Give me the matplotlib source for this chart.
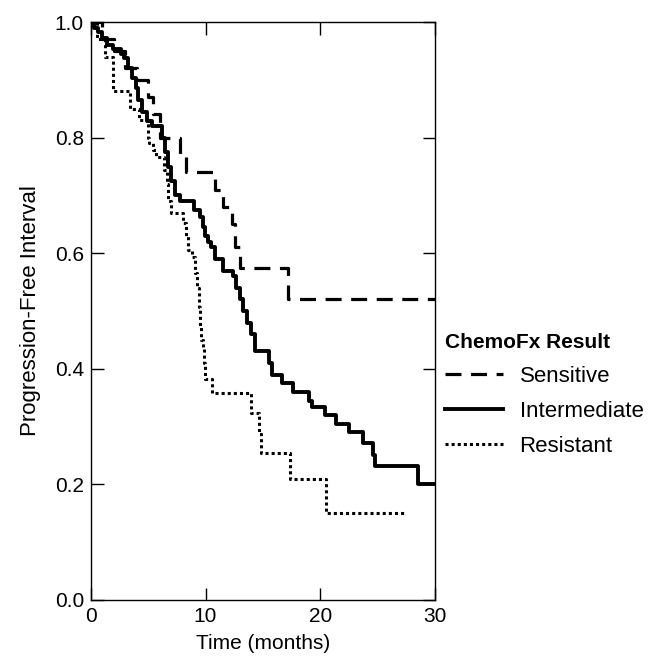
import matplotlib
matplotlib.use("Agg")
import matplotlib.pyplot as plt

plt.rcParams["font.family"] = ["Liberation Sans", "DejaVu Sans"]

# ── Kaplan-Meier step data ───────────────────────────────────────────────────
sens_t = [0, 1.0, 2.0, 3.0, 4.0, 5.0, 5.4, 6.0, 7.8, 8.3, 10.8, 11.5, 12.3, 12.6, 13.0, 17.2, 30]
sens_s = [1.0, 0.97, 0.95, 0.92, 0.90, 0.87, 0.84, 0.80, 0.77, 0.74, 0.71, 0.68, 0.65, 0.61, 0.574, 0.52, 0.52]

inter_t = [0, 0.3, 0.6, 1.0, 1.4, 1.9, 2.6, 2.9, 3.2, 3.6, 3.9, 4.1, 4.5, 4.9, 5.3, 6.2, 6.5,
           6.7, 7.0, 7.3, 7.8, 9.0, 9.5, 9.8, 9.95, 10.2, 10.5, 10.8, 11.5, 12.4, 12.7, 13.0,
           13.3, 13.6, 14.0, 14.3, 15.5, 15.8, 16.7, 17.6, 19.0, 19.3, 20.4, 21.4, 22.5, 23.7,
           24.6, 24.8, 28.5, 30]
inter_s = [1.0, 0.99, 0.983, 0.972, 0.96, 0.954, 0.945, 0.937, 0.92, 0.903, 0.885, 0.865, 0.845,
           0.828, 0.82, 0.80, 0.775, 0.75, 0.725, 0.70, 0.69, 0.675, 0.663, 0.645, 0.629, 0.62,
           0.61, 0.59, 0.57, 0.56, 0.54, 0.52, 0.50, 0.48, 0.46, 0.43, 0.41, 0.39, 0.375, 0.36,
           0.345, 0.334, 0.32, 0.305, 0.29, 0.272, 0.25, 0.231, 0.20, 0.20]

res_t = [0, 0.5, 1.2, 1.9, 3.4, 4.2, 5.0, 5.1, 5.4, 5.7, 6.4, 6.6, 6.75, 7.0, 8.0, 8.3, 8.5,
         8.8, 9.1, 9.3, 9.4, 9.5, 9.6, 9.8, 9.9, 9.95, 10.6, 14.0, 14.7, 14.85, 17.35, 20.5, 27.5]
res_s = [1.0, 0.97, 0.94, 0.88, 0.85, 0.83, 0.80, 0.79, 0.778, 0.767, 0.744, 0.72, 0.69, 0.669,
         0.652, 0.629, 0.606, 0.594, 0.565, 0.54, 0.507, 0.473, 0.45, 0.438, 0.41, 0.383, 0.358,
         0.323, 0.288, 0.254, 0.21, 0.15, 0.15]

x_ticks = [0, 10, 20, 30]
y_ticks = [0.0, 0.2, 0.4, 0.6, 0.8, 1.0]

# ── Plot ─────────────────────────────────────────────────────────────────────
fig = plt.figure(figsize=(6.49, 6.61), dpi=100)
ax = fig.add_axes([0.140, 0.0923, 0.530, 0.8744])

ax.step(sens_t, sens_s, where="post", color="black", lw=2.3,
        linestyle=(0, (5, 3)), label="Sensitive")
ax.step(inter_t, inter_s, where="post", color="black", lw=2.8,
        linestyle="-", label="Intermediate")
ax.step(res_t, res_s, where="post", color="black", lw=2.2,
        linestyle=(0, (1, 1)), label="Resistant")

ax.set_xlim(0, 30)
ax.set_ylim(0, 1.0)
ax.set_xticks(x_ticks)
ax.set_yticks(y_ticks)
ax.set_yticklabels([f"{v:.1f}" for v in y_ticks])
ax.tick_params(direction="in", length=9, width=1.0, labelsize=15,
               top=True, right=True, colors="black", pad=5)
for sp in ax.spines.values():
    sp.set_linewidth(1.0)

ax.set_xlabel("Time (months)", fontsize=15, labelpad=6)
ax.set_ylabel("Progression-Free Interval", fontsize=16, labelpad=10)

leg = ax.legend(loc="upper left", bbox_to_anchor=(1.03, 0.462), frameon=False,
                title="ChemoFx Result", fontsize=16, handlelength=2.6,
                handletextpad=0.75, labelspacing=0.63, alignment="left",
                borderaxespad=0, borderpad=0)
leg.get_title().set_fontweight("bold")
leg.get_title().set_fontsize(15)

fig.savefig("out.png", dpi=100)
